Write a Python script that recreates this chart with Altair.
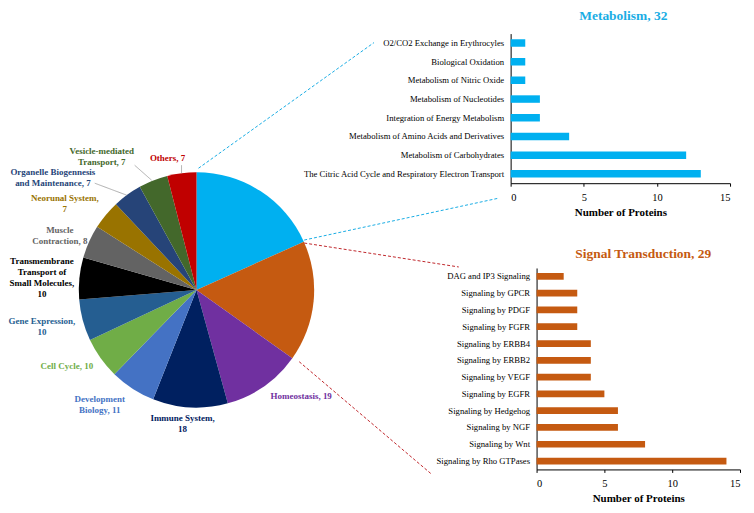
import altair as alt
import pandas as pd

# ---------------- data ----------------
categories = ["Metabolism", "Signal Transduction", "Homeostasis", "Immune System",
              "Development Biology", "Cell Cycle", "Gene Expression",
              "Transmembrane Transport", "Muscle Contraction", "Neuronal System",
              "Organelle Biogenesis", "Vesicle-mediated Transport", "Others"]
counts = [32, 29, 19, 18, 11, 10, 10, 10, 8, 7, 7, 7, 7]
slice_colors = ["#00B0F0", "#C55A11", "#7030A0", "#002060", "#4472C4", "#70AD47",
                "#255E91", "#000000", "#636363", "#997300", "#264478", "#43682B", "#C00000"]
pie_labels = ["", "", "Homeostasis, 19", "Immune System,\n18", "Development\nBiology, 11",
              "Cell Cycle, 10", "Gene Expression,\n10",
              "Transmembrane\nTransport of\nSmall Molecules,\n10",
              "Muscle\nContraction, 8", "Neorunal System,\n7",
              "Organelle Biogennesis\nand Maintenance, 7",
              "Vesicle-mediated\nTransport, 7", "Others, 7"]

met_terms = ["O2/CO2 Exchange in Erythrocyles", "Biological Oxidation",
             "Metabolism of Nitric Oxide", "Metabolism of Nucleotides",
             "Integration of Energy Metabolism", "Metabolism of Amino Acids and Derivatives",
             "Metabolism of Carbohydrates",
             "The Citric Acid Cycle and Respiratory Electron Transport"]
met_counts = [1, 1, 1, 2, 2, 4, 12, 13]

sig_terms = ["DAG and IP3 Signaling", "Signaling by GPCR", "Signaling by PDGF",
             "Signaling by FGFR", "Signaling by ERBB4", "Signaling by ERBB2",
             "Signaling by VEGF", "Signaling by EGFR", "Signaling by Hedgehog",
             "Signaling by NGF", "Signaling by Wnt", "Signaling by Rho GTPases"]
sig_counts = [2, 3, 3, 3, 4, 4, 4, 5, 6, 6, 8, 14]

x_ticks = [0, 5, 10, 15]

# ---------------- layout (annotation positions, pixels) ----------------
W, H = 740, 500
PIE_X, PIE_Y, PIE_R = 189, 282, 118
label_x = [0, 0, 294, 175, 92, 59, 34, 34, 52, 57, 45, 94, 160]
label_y = [0, 0, 388, 410, 391, 358, 313, 253, 222, 190, 164, 143, 150]

FONT = "Times New Roman, Liberation Serif, serif"

pie_df = pd.DataFrame({"category": categories, "count": counts,
                       "order": list(range(len(categories))),
                       "label": pie_labels, "lx": label_x, "ly": label_y})
met_df = pd.DataFrame({"term": met_terms, "count": met_counts})
sig_df = pd.DataFrame({"term": sig_terms, "count": sig_counts})
one = pd.DataFrame({"a": [0]})

color_scale = alt.Scale(domain=categories, range=slice_colors)

pie = alt.Chart(pie_df).mark_arc(outerRadius=PIE_R).encode(
    theta=alt.Theta("count:Q", stack=True),
    order=alt.Order("order:Q"),
    color=alt.Color("category:N", scale=color_scale, legend=None),
    x=alt.value(PIE_X), y=alt.value(PIE_Y),
)

labels = alt.Chart(pie_df).mark_text(
    font=FONT, fontSize=9, fontWeight="bold", lineBreak="\n", lineHeight=11,
    align="center", baseline="middle"
).encode(
    x=alt.X("lx:Q", scale=None, axis=None),
    y=alt.Y("ly:Q", scale=None, axis=None),
    text="label:N",
    color=alt.Color("category:N", scale=color_scale, legend=None),
)


def bar_chart(df, terms, color, xr, yr):
    axis_common = dict(labelFont=FONT, labelColor="#000", titleFont=FONT,
                       titleColor="#000", domainColor="#000", grid=False)
    return alt.Chart(df).mark_bar(color=color).encode(
        x=alt.X("count:Q",
                scale=alt.Scale(domain=[0, 15], range=xr, nice=False, zero=True),
                axis=alt.Axis(orient="bottom", offset=-(H - yr[1]), values=x_ticks,
                              title="Number of Proteins", titleFontSize=11,
                              titleFontWeight="bold", labelFontSize=10.5,
                              tickSize=3, tickColor="#000", labelPadding=6,
                              titlePadding=4, **axis_common)),
        y=alt.Y("term:N", sort=terms,
                scale=alt.Scale(domain=terms, range=yr, paddingInner=0.6, paddingOuter=0.3),
                axis=alt.Axis(orient="left", offset=-xr[0], title=None, ticks=False,
                              labelFontSize=8.7, labelPadding=7, labelLimit=400,
                              **axis_common)),
    )


met = bar_chart(met_df, met_terms, "#00B0F0", [504, 724], [25, 175])
sig = bar_chart(sig_df, sig_terms, "#C55A11", [530, 734], [260, 462])

title1 = alt.Chart(one).mark_text(font=FONT, fontSize=13.5, fontWeight="bold",
                                  color="#1AADE4").encode(
    x=alt.value(617), y=alt.value(7), text=alt.value("Metabolism, 32"))
title2 = alt.Chart(one).mark_text(font=FONT, fontSize=13.5, fontWeight="bold",
                                  color="#C55A11").encode(
    x=alt.value(637), y=alt.value(246), text=alt.value("Signal Transduction, 29"))


def seg(x1, y1, x2, y2, color, dash=True, width=1.0):
    m = alt.Chart(one).mark_rule(color=color, strokeWidth=width,
                                 strokeDash=[3, 2] if dash else [1, 0])
    return m.encode(x=alt.value(x1), y=alt.value(y1), x2=alt.value(x2), y2=alt.value(y2))


connectors = [
    seg(191, 160, 367, 34, "#1AADE4"),
    seg(297, 232, 492, 190, "#1AADE4"),
    seg(297, 235, 452, 259, "#C0282D"),
    seg(292, 354, 425, 467, "#C0282D"),
    seg(174, 157, 174, 165, "#999999", dash=False, width=0.8),
    seg(127, 157, 144, 172, "#999999", dash=False, width=0.8),
    seg(87, 175, 119, 187, "#999999", dash=False, width=0.8),
]

chart = alt.layer(pie, labels, met, sig, title1, title2, *connectors).resolve_scale(
    x="independent", y="independent"
).properties(width=W, height=H, padding=0, autosize="none").configure_view(stroke=None)

chart.save("out.html", embed_options={"renderer": "svg", "actions": False})
